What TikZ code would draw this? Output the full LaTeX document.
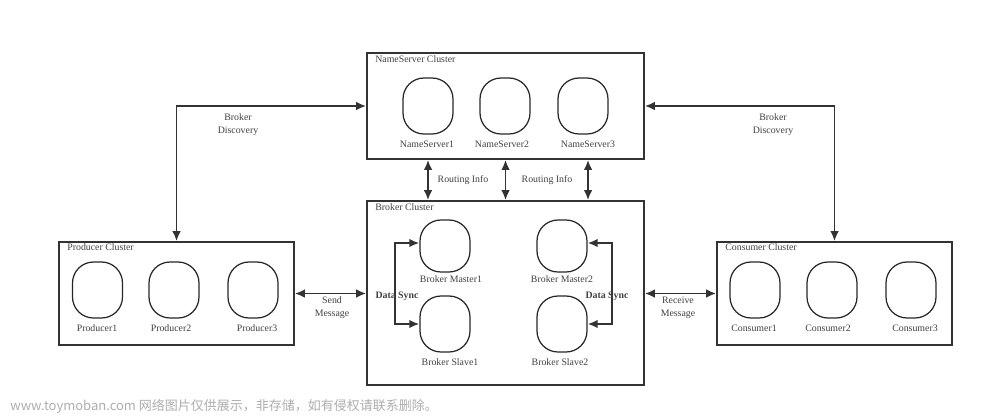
\documentclass[tikz,border=0pt]{standalone}
\usepackage{fontspec}
\setmainfont{Liberation Serif}
\newfontfamily\cjk{Noto Sans CJK SC}
\usepackage{tikz}
\usetikzlibrary{arrows.meta, positioning, calc}

\begin{document}
\begin{tikzpicture}[
    x=0.02cm, y=-0.02cm,
    cluster/.style={rectangle, draw=black!80, line width=0.9pt, inner sep=0pt},
    member/.style={rectangle, draw=black!85, line width=0.7pt, rounded corners=0.42cm, minimum width=1cm, minimum height=1.12cm, inner sep=0pt},
    tag/.style={font=\fontsize{5.6}{7.4}\selectfont, text=black!75, inner sep=0pt, align=center},
    title/.style={tag, anchor=west},
    link/.style={{Latex[length=2mm,width=1.7mm]}-{Latex[length=2mm,width=1.7mm]}, line width=1.1pt, black!80}
]
    \useasboundingbox (0,0) rectangle (1000,416);

    % --- Clusters ---
    \node[cluster, minimum width=5.54cm, minimum height=2.12cm] (ns) at (505.5,106) {};
    \node[cluster, minimum width=5.54cm, minimum height=3.68cm] (bc) at (505.5,293) {};
    \node[cluster, minimum width=4.7cm, minimum height=2.06cm] (pc) at (176.5,293.5) {};
    \node[cluster, minimum width=4.7cm, minimum height=2.06cm] (cc) at (834.5,293.5) {};

    \node[title] (ns-title) at (375,59) {NameServer Cluster};
    \node[title] (bc-title) at (375,207) {Broker Cluster};
    \node[title] (pc-title) at (67,247) {Producer Cluster};
    \node[title] (cc-title) at (725,247) {Consumer Cluster};

    % NameServers
    \node[member] (ns1) at (428,106) {};
    \node[member] (ns2) at (505,106) {};
    \node[member] (ns3) at (583,106) {};
    \node[tag] (ns1-lbl) at (427,144) {NameServer1};
    \node[tag] (ns2-lbl) at (502,144) {NameServer2};
    \node[tag] (ns3-lbl) at (588,144) {NameServer3};

    % Brokers
    \node[member, minimum height=1.04cm] (m1) at (445,246) {};
    \node[member] (s1) at (445,324) {};
    \node[member, minimum height=1.04cm] (m2) at (562,246) {};
    \node[member] (s2) at (562,324) {};
    \node[tag] (m1-lbl) at (451,279) {Broker Master1};
    \node[tag] (s1-lbl) at (450,362) {Broker Slave1};
    \node[tag] (m2-lbl) at (562,279) {Broker Master2};
    \node[tag] (s2-lbl) at (560,362) {Broker Slave2};

    % Producers
    \node[member] (p1) at (97.5,290) {};
    \node[member] (p2) at (174,290) {};
    \node[member] (p3) at (253,290) {};
    \node[tag] (p1-lbl) at (97,328) {Producer1};
    \node[tag] (p2-lbl) at (171,328) {Producer2};
    \node[tag] (p3-lbl) at (257,328) {Producer3};

    % Consumers
    \node[member] (c1) at (755,290) {};
    \node[member] (c2) at (832,290) {};
    \node[member] (c3) at (911,290) {};
    \node[tag] (c1-lbl) at (754,328) {Consumer1};
    \node[tag] (c2-lbl) at (828,328) {Consumer2};
    \node[tag] (c3-lbl) at (915,328) {Consumer3};

    % --- Connections ---

    % Broker discovery
    \draw[link] (ns.west) -| (pc.north);
    \draw[link] (ns.east) -| (cc.north);
    \node[tag] (disc-l) at (238,125) {Broker\\Discovery};
    \node[tag] (disc-r) at (773,125) {Broker\\Discovery};

    % Routing info
    \coordinate (r3) at (588,0);
    \draw[link] (ns1 |- ns.south) -- (ns1 |- bc.north);
    \draw[link] (ns.south) -- (bc.north);
    \draw[link] (r3 |- ns.south) -- (r3 |- bc.north);
    \node[tag] (route-a) at (463,180) {Routing Info};
    \node[tag] (route-b) at (547,180) {Routing Info};

    % Data sync
    \draw[link] ([yshift=0.06cm]m1.west) -- ++(-24,0) |- (s1.west);
    \draw[link] ([yshift=0.06cm]m2.east) -- ++(24,0) |- (s2.east);
    \node[tag, font=\fontsize{5.6}{7.4}\selectfont\bfseries] (sync-l) at (397,296) {Data Sync};
    \node[tag, font=\fontsize{5.6}{7.4}\selectfont\bfseries] (sync-r) at (607,296) {Data Sync};

    % Messages
    \draw[link] (pc.east) -- (bc.west |- pc.east);
    \draw[link] (bc.east |- cc.west) -- (cc.west);
    \node[tag] (send) at (332,308) {Send\\Message};
    \node[tag] (recv) at (678,308) {Receive\\Message};

    % Watermark
    \node[anchor=west, inner sep=0pt, text=black!32, font=\cjk\fontsize{7.4}{8.5}\selectfont] (watermark) at (10,406) {www.toymoban.com 网络图片仅供展示，非存储，如有侵权请联系删除。};

\end{tikzpicture}
\end{document}
